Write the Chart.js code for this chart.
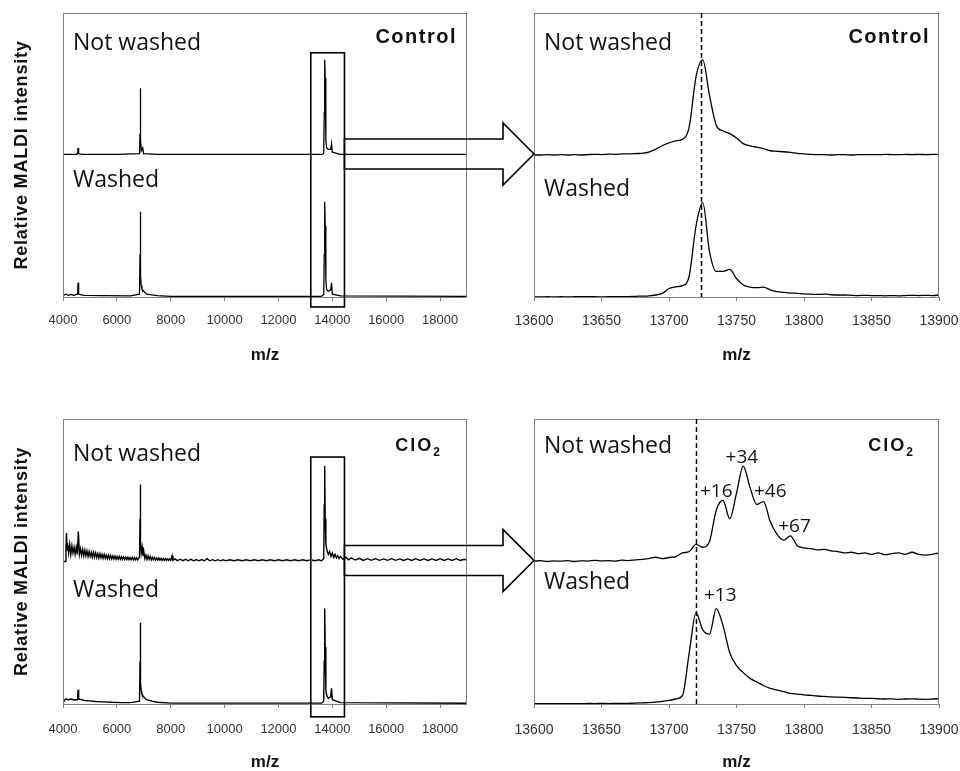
<!DOCTYPE html>
<html>
<head>
<meta charset="utf-8">
<title>MALDI spectra - Control vs ClO2</title>
<script src="https://cdn.jsdelivr.net/npm/chart.js@4.4.1/dist/chart.umd.min.js"></script>
<style>
  body { margin: 0; background: #fff; }
  #wrap { position: relative; width: 960px; height: 771px; overflow: hidden; }
  canvas { position: absolute; }
</style>
</head>
<body>
<div id="wrap">
  <canvas id="ctrlZoom" width="480" height="385" style="left:480px;top:0"></canvas>
  <canvas id="ctrlFull" width="540" height="385" style="left:0;top:0"></canvas>
  <canvas id="cloZoom" width="480" height="386" style="left:480px;top:385px"></canvas>
  <canvas id="cloFull" width="540" height="386" style="left:0;top:385px"></canvas>
</div>
<script>
// tick labels
const fullTicks = [4000, 6000, 8000, 10000, 12000, 14000, 16000, 18000];
const zoomTicks = [13600, 13650, 13700, 13750, 13800, 13850, 13900];

// Full range spectra (m/z, relative intensity)
const ctrlNwMz = [4000, 4500, 4540, 4560, 4580, 4700, 6000, 6840, 6860, 6870, 6885, 6905, 6960, 6990, 7500, 13600, 13680, 13700, 13717, 13735, 13760, 13790, 13850, 13940, 13970, 14000, 14300, 19000];
const ctrlNwInt = [0.005, 0.005, 0.01, 0.05, 0.01, 0.005, 0.005, 0.01, 0.15, 0.47, 0.12, 0.03, 0.05, 0.01, 0.005, 0.005, 0.01, 0.3, 0.67, 0.54, 0.1, 0.05, 0.04, 0.04, 0.08, 0.02, 0.005, 0.005];

const ctrlWMz = [4000, 4100, 4200, 4300, 4400, 4500, 4540, 4560, 4580, 4700, 4800, 5500, 6500, 6840, 6860, 6870, 6885, 6905, 6930, 6960, 7000, 7100, 7500, 8000, 13600, 13680, 13700, 13717, 13735, 13760, 13790, 13850, 13940, 13970, 14000, 14300, 19000];
const ctrlWInt = [0.01, 0.02, 0.012, 0.018, 0.01, 0.02, 0.02, 0.1, 0.02, 0.015, 0.012, 0.01, 0.008, 0.02, 0.3, 0.6, 0.15, 0.08, 0.06, 0.05, 0.04, 0.02, 0.01, 0.005, 0.005, 0.02, 0.3, 0.67, 0.5, 0.12, 0.05, 0.04, 0.05, 0.1, 0.02, 0.008, 0.005];

const cloNwMz = [
  4000, 4080, 4110, 4130, 4150,
  4170, 4210, 4250, 4290, 4330, 4370, 4410, 4450, 4490, 4530,
  4570, 4610, 4650, 4690, 4730, 4770, 4810, 4850, 4890, 4930,
  4970, 5010, 5050, 5090, 5130, 5170, 5210, 5250, 5290, 5330,
  5370, 5410, 5450, 5490, 5530, 5570, 5610, 5650, 5690, 5730,
  5770, 5810, 5850, 5890, 5930, 5970, 6010, 6050, 6090, 6130,
  6170, 6210, 6250, 6290, 6330, 6370, 6410, 6450, 6490, 6530,
  6570, 6610, 6650, 6690, 6730, 6770, 6810,
  6840, 6860, 6870, 6885, 6905,
  6940, 6970, 7000, 7040, 7080, 7120, 7160, 7200, 7240, 7280,
  7320, 7360, 7400, 7440, 7480, 7520, 7560, 7600, 7640, 7680,
  7720, 7760, 7800, 7840, 7880, 7920, 7960, 8000, 8050, 8080,
  8150, 8250, 8350, 8450, 8550, 8650, 8750, 8850, 8950, 9050, 9150, 9250, 9350, 9450, 9550, 9650, 9750, 9850, 9950, 10050,
  10200, 10350, 10500, 10650, 10800, 10950, 11100, 11250, 11400, 11550, 11700, 11850, 12000, 12150, 12300, 12450, 12600, 12750, 12900, 13050,
  13200, 13350, 13500, 13600,
  13680, 13700, 13717, 13735, 13760, 13800, 13850, 13900,
  13950, 14000, 14050, 14100, 14150, 14200, 14250, 14300, 14400, 14500, 14600, 14700,
  14850, 15000, 15150, 15300, 15450, 15600, 15750, 15900, 16050, 16200, 16350, 16500, 16650, 16800,
  16950, 17100, 17250, 17400, 17550, 17700, 17850, 18000, 18150, 18300, 18450, 18600, 18750, 18900, 19000,
];
const cloNwInt = [
  0.0, 0.0, 0.1, 0.2, 0.08,
  0.13, 0.06, 0.12, 0.05, 0.11, 0.06, 0.1, 0.05, 0.1, 0.05,
  0.21, 0.05, 0.09, 0.045, 0.085, 0.04, 0.08, 0.04, 0.075, 0.035,
  0.07, 0.035, 0.065, 0.03, 0.065, 0.03, 0.06, 0.028, 0.055, 0.025,
  0.055, 0.025, 0.05, 0.022, 0.05, 0.022, 0.045, 0.02, 0.045, 0.02,
  0.042, 0.018, 0.04, 0.018, 0.038, 0.016, 0.036, 0.016, 0.035, 0.015,
  0.033, 0.015, 0.032, 0.014, 0.03, 0.014, 0.03, 0.013, 0.028, 0.013,
  0.028, 0.012, 0.026, 0.012, 0.025, 0.012, 0.024,
  0.03, 0.3, 0.54, 0.15, 0.06,
  0.1, 0.04, 0.07, 0.02, 0.045, 0.015, 0.04, 0.015, 0.035, 0.012,
  0.03, 0.012, 0.028, 0.01, 0.025, 0.01, 0.024, 0.01, 0.022, 0.008,
  0.02, 0.008, 0.02, 0.008, 0.018, 0.008, 0.018, 0.008, 0.04, 0.008,
  0.018, 0.006, 0.016, 0.006, 0.015, 0.005, 0.015, 0.005, 0.014, 0.005, 0.014, 0.005, 0.02, 0.005, 0.013, 0.005, 0.013, 0.005, 0.012, 0.005,
  0.012, 0.005, 0.012, 0.005, 0.012, 0.005, 0.012, 0.005, 0.012, 0.005, 0.012, 0.005, 0.012, 0.005, 0.012, 0.005, 0.012, 0.005, 0.012, 0.005,
  0.012, 0.005, 0.012, 0.005,
  0.02, 0.4, 0.67, 0.3, 0.12, 0.08, 0.05, 0.07,
  0.035, 0.06, 0.03, 0.05, 0.025, 0.04, 0.02, 0.035, 0.015, 0.03, 0.012, 0.025,
  0.01, 0.022, 0.008, 0.02, 0.008, 0.02, 0.008, 0.018, 0.008, 0.02, 0.008, 0.018, 0.007, 0.018,
  0.007, 0.02, 0.007, 0.018, 0.007, 0.018, 0.007, 0.02, 0.007, 0.018, 0.007, 0.02, 0.007, 0.016, 0.01,
];

const cloWMz = [4000, 4050, 4100, 4200, 4300, 4400, 4500, 4540, 4560, 4580, 4700, 4800, 5000, 5200, 5500, 5800, 6200, 6500, 6840, 6860, 6870, 6885, 6905, 6930, 6960, 7000, 7100, 7300, 7500, 8000, 13600, 13680, 13700, 13717, 13735, 13760, 13790, 13850, 13940, 13970, 14000, 14300, 19000];
const cloWInt = [0.01, 0.025, 0.035, 0.03, 0.035, 0.028, 0.03, 0.03, 0.1, 0.035, 0.03, 0.025, 0.022, 0.018, 0.015, 0.012, 0.01, 0.01, 0.02, 0.3, 0.57, 0.15, 0.09, 0.07, 0.06, 0.05, 0.03, 0.02, 0.012, 0.006, 0.006, 0.02, 0.3, 0.67, 0.4, 0.1, 0.06, 0.04, 0.05, 0.11, 0.03, 0.01, 0.005];

// Zoomed region 13600-13900
const zoomMz = [13600, 13605, 13610, 13615, 13620, 13625, 13630, 13635, 13640, 13645, 13650, 13655, 13660, 13665, 13670, 13675,
  13680, 13685, 13690, 13695, 13700, 13705, 13710, 13715, 13720, 13725, 13730, 13735, 13740, 13745, 13750, 13755, 13760, 13765, 13770, 13775, 13780, 13785, 13790, 13795, 13800,
  13805, 13810, 13815, 13820, 13825, 13830, 13835, 13840, 13845, 13850, 13855, 13860, 13865, 13870, 13875, 13880, 13885, 13890, 13895, 13900];
const ctrlNwZoom = [0.0, 0.0, 0.002, 0.0, 0.002, 0.0, 0.003, 0.0, 0.003, 0.005, 0.003, 0.006, 0.005, 0.008, 0.008, 0.01,
  0.012, 0.02, 0.04, 0.065, 0.085, 0.1, 0.11, 0.2, 0.55, 0.67, 0.42, 0.21, 0.17, 0.15, 0.12, 0.08, 0.065, 0.055, 0.045, 0.03, 0.026, 0.023, 0.018, 0.012, 0.008,
  0.004, 0.003, 0.002, 0.0, 0.003, 0.002, 0.0, 0.003, 0.002, 0.003, 0.002, 0.004, 0.003, 0.002, 0.004, 0.003, 0.004, 0.003, 0.004, 0.005];
const ctrlWZoom = [0.0, 0.0, 0.002, 0.0, 0.002, 0.0, 0.002, 0.003, 0.002, 0.003, 0.0, 0.003, 0.002, 0.003, 0.003, 0.005,
  0.006, 0.008, 0.014, 0.025, 0.06, 0.072, 0.08, 0.15, 0.5, 0.665, 0.32, 0.18, 0.18, 0.195, 0.13, 0.085, 0.07, 0.066, 0.07, 0.05, 0.038, 0.032, 0.028, 0.026, 0.022,
  0.02, 0.018, 0.02, 0.016, 0.014, 0.014, 0.012, 0.01, 0.012, 0.01, 0.01, 0.008, 0.01, 0.008, 0.01, 0.012, 0.01, 0.012, 0.01, 0.014];
const cloNwZoom = [0.002, 0.006, 0.0, 0.004, 0.002, 0.006, 0.0, 0.005, 0.003, 0.008, 0.004, 0.006, 0.003, 0.01, 0.006, 0.012,
  0.015, 0.02, 0.03, 0.02, 0.028, 0.035, 0.06, 0.07, 0.12, 0.1, 0.14, 0.36, 0.43, 0.3, 0.48, 0.67, 0.52, 0.4, 0.42, 0.28, 0.19, 0.15, 0.18, 0.11, 0.095,
  0.09, 0.082, 0.085, 0.075, 0.07, 0.06, 0.065, 0.055, 0.06, 0.05, 0.06, 0.048, 0.055, 0.06, 0.05, 0.065, 0.05, 0.045, 0.05, 0.06];
const cloWZoom = [0.003, 0.002, 0.003, 0.002, 0.003, 0.002, 0.003, 0.002, 0.004, 0.003, 0.005, 0.003, 0.004, 0.004, 0.005, 0.006,
  0.008, 0.01, 0.013, 0.018, 0.025, 0.035, 0.06, 0.36, 0.64, 0.52, 0.49, 0.67, 0.55, 0.36, 0.27, 0.22, 0.18, 0.155, 0.13, 0.11, 0.098, 0.087, 0.075, 0.07, 0.064,
  0.06, 0.056, 0.053, 0.05, 0.048, 0.046, 0.044, 0.042, 0.04, 0.04, 0.037, 0.035, 0.036, 0.033, 0.035, 0.036, 0.034, 0.033, 0.035, 0.038];

// "Not washed" trace is stacked one unit above "Washed"
const stackOffset = 1;

function pts(mz, vals, off) {
  return mz.map((m, i) => ({ x: m, y: vals[i] + off }));
}

// frame, labels, zoom box, arrows
const decor = {
  id: "decor",
  afterDraw(chart, args, o) {
    const { ctx, chartArea: a, scales: { x, y } } = chart;
    ctx.save();
    ctx.strokeStyle = "#808080";
    ctx.lineWidth = 1;
    ctx.strokeRect(a.left + 0.5, a.top + 0.5, a.right - a.left - 1, a.bottom - a.top);

    if (o.dash) {
      const px = Math.round(x.getPixelForValue(o.dash)) + 0.5;
      ctx.strokeStyle = "#000";
      ctx.lineWidth = 1.5;
      ctx.setLineDash([5, 3]);
      ctx.beginPath();
      ctx.moveTo(px, a.top);
      ctx.lineTo(px, a.bottom);
      ctx.stroke();
      ctx.setLineDash([]);
    }

    ctx.fillStyle = "#111";
    ctx.textBaseline = "alphabetic";
    ctx.textAlign = "left";
    ctx.font = "23px 'Open Sans'";
    ctx.fillText("Not washed", a.left + 10, y.getPixelForValue(o.nwY));
    ctx.fillText("Washed", a.left + 10, y.getPixelForValue(o.wY));

    // treatment tag
    const tagY = y.getPixelForValue(o.tagY);
    if (o.tag === "ClO2") {
      ctx.font = "bold 18px Arial";
      ctx.letterSpacing = "2px";
      const w1 = ctx.measureText("ClO").width;
      ctx.font = "bold 12px Arial";
      const w2 = ctx.measureText("2").width;
      const x0 = a.right - o.tagR - w2 - w1;
      ctx.font = "bold 18px Arial";
      ctx.fillText("ClO", x0, tagY);
      ctx.font = "bold 12px Arial";
      ctx.fillText("2", x0 + w1, tagY + 5);
    } else {
      ctx.font = "bold 20px Arial";
      ctx.letterSpacing = "1.5px";
      ctx.textAlign = "right";
      ctx.fillText(o.tag, a.right - o.tagR, tagY);
    }
    ctx.letterSpacing = "0px";

    if (o.peaks) {
      ctx.font = "19px 'Open Sans'";
      ctx.textAlign = "center";
      o.peaks.forEach(p => ctx.fillText(p[0], x.getPixelForValue(p[1]), y.getPixelForValue(p[2])));
    }

    if (o.yTitle) {
      ctx.save();
      ctx.translate(22, y.getPixelForValue(1));
      ctx.rotate(-Math.PI / 2);
      ctx.font = "bold 18px Arial";
      ctx.letterSpacing = "0.8px";
      ctx.textAlign = "center";
      ctx.textBaseline = "middle";
      ctx.fillText("Relative MALDI intensity", 0, 0);
      ctx.restore();
    }

    if (o.box) {
      const bx0 = x.getPixelForValue(o.box[0]);
      const bx1 = x.getPixelForValue(o.box[1]);
      const byT = y.getPixelForValue(o.box[3]);
      const byB = y.getPixelForValue(o.box[2]);
      ctx.strokeStyle = "#000";
      ctx.lineWidth = 1.6;
      ctx.strokeRect(bx0, byT, bx1 - bx0, byB - byT);

      // hollow block arrow towards the zoomed panel
      const tip = a.right + 67;
      const neck = tip - 31;
      const cy = y.getPixelForValue(stackOffset) - 1;
      ctx.beginPath();
      ctx.moveTo(bx1, cy - 15);
      ctx.lineTo(neck, cy - 15);
      ctx.lineTo(neck, cy - 31);
      ctx.lineTo(tip, cy);
      ctx.lineTo(neck, cy + 31);
      ctx.lineTo(neck, cy + 15);
      ctx.lineTo(bx1, cy + 15);
      ctx.closePath();
      ctx.stroke();
    }
    ctx.restore();
  }
};

function panel(id, p) {
  const line = { borderColor: "#000", borderWidth: p.lw, cubicInterpolationMode: p.smooth ? "monotone" : "default" };
  return new Chart(document.getElementById(id), {
    type: "line",
    data: {
      datasets: [
        Object.assign({ label: "Not washed", data: pts(p.mzNw, p.nw, stackOffset) }, line),
        Object.assign({ label: "Washed", data: pts(p.mzW, p.w, 0) }, line),
      ],
    },
    options: {
      responsive: false,
      animation: false,
      events: [],
      layout: { padding: p.pad },
      elements: { point: { radius: 0 }, line: { tension: 0 } },
      plugins: {
        legend: { display: false },
        tooltip: { enabled: false },
        decor: p.decor,
      },
      scales: {
        x: {
          type: "linear",
          min: p.min,
          max: p.max,
          afterBuildTicks: s => { s.ticks = p.ticks.map(v => ({ value: v })); },
          afterFit: s => { s.height = p.axisH; s.paddingLeft = 0; s.paddingRight = 0; },
          border: { display: false },
          grid: { drawOnChartArea: false, tickLength: 4, color: "#808080" },
          ticks: {
            autoSkip: false,
            maxRotation: 0,
            padding: p.tickPad,
            color: "#333",
            font: { family: "Arial, 'Liberation Sans'", size: p.tickSize },
            callback: v => String(v),
          },
          title: {
            display: true,
            text: "m/z",
            color: "#111",
            font: { family: "Arial, 'Liberation Sans'", weight: "bold", size: 17, lineHeight: 1 },
            padding: { top: 0, bottom: p.titlePad },
          },
        },
        y: { display: false, min: 0, max: 2 },
      },
    },
    plugins: [decor],
  });
}

panel("ctrlFull", {
  mzNw: ctrlNwMz, nw: ctrlNwInt, mzW: ctrlWMz, w: ctrlWInt, lw: 1.3, smooth: false,
  min: 4000, max: 19000, ticks: fullTicks, tickSize: 13, tickPad: 12,
  pad: { left: 63, right: 73, top: 13, bottom: 0 }, axisH: 88, titlePad: 21,
  decor: { nwY: 1.74, wY: 0.775, tag: "Control", tagY: 1.79, tagR: 10, yTitle: true, box: [13200, 14450, -0.07, 1.72] },
});

panel("ctrlZoom", {
  mzNw: zoomMz, nw: ctrlNwZoom, mzW: zoomMz, w: ctrlWZoom, lw: 1.3, smooth: true,
  min: 13600, max: 13900, ticks: zoomTicks, tickSize: 14, tickPad: 12,
  pad: { left: 54, right: 21, top: 13, bottom: 0 }, axisH: 88, titlePad: 21,
  decor: { nwY: 1.74, wY: 0.71, tag: "Control", tagY: 1.79, tagR: 9, dash: 13724 },
});

panel("cloFull", {
  mzNw: cloNwMz, nw: cloNwInt, mzW: cloWMz, w: cloWInt, lw: 1.4, smooth: false,
  min: 4000, max: 19000, ticks: fullTicks, tickSize: 13, tickPad: 14,
  pad: { left: 63, right: 73, top: 34, bottom: 0 }, axisH: 67, titlePad: 0,
  decor: { nwY: 1.705, wY: 0.75, tag: "ClO2", tagY: 1.775, tagR: 25, yTitle: true, box: [13200, 14450, -0.09, 1.733] },
});

panel("cloZoom", {
  mzNw: zoomMz, nw: cloNwZoom, mzW: zoomMz, w: cloWZoom, lw: 1.3, smooth: true,
  min: 13600, max: 13900, ticks: zoomTicks, tickSize: 14, tickPad: 14,
  pad: { left: 54, right: 21, top: 34, bottom: 0 }, axisH: 67, titlePad: 0,
  decor: {
    nwY: 1.76, wY: 0.81, tag: "ClO2", tagY: 1.775, tagR: 24, dash: 13720,
    peaks: [["+16", 13735, 1.45], ["+34", 13754, 1.69], ["+46", 13775, 1.45], ["+67", 13793, 1.21], ["+13", 13738, 0.72]],
  },
});
</script>
</body>
</html>
